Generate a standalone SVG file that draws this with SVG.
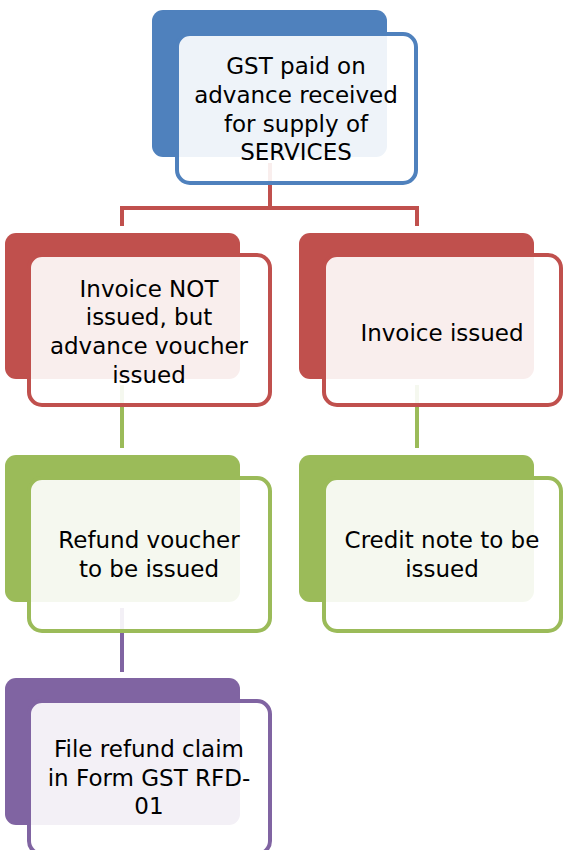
<svg xmlns="http://www.w3.org/2000/svg" width="563" height="850" viewBox="0 0 563 850">
  <style>
    .back { stroke: none; }
    .front { fill: #ffffff; fill-opacity: 0.9; stroke-width: 4; }
    .lbl { font-family: "DejaVu Sans", "Liberation Sans", sans-serif; font-size: 23px; fill: #000000; text-anchor: middle; }
    .conn { fill: none; stroke-width: 4; stroke-linejoin: miter; }
    .blue .back { fill: #4f81bd; } .blue .front { stroke: #4f81bd; }
    .red .back { fill: #c0504d; } .red .front { stroke: #c0504d; }
    .green .back { fill: #9bbb59; } .green .front { stroke: #9bbb59; }
    .purple .back { fill: #8064a2; } .purple .front { stroke: #8064a2; }
  </style>

  <!-- connectors (drawn first so the translucent front cards cover them) -->
  <g id="connectors">
    <path class="conn" stroke="#c0504d" d="M270 163 V208 H122 V226 M270 208 H417 V226"/>
    <path class="conn" stroke="#9bbb59" d="M122 385 V448"/>
    <path class="conn" stroke="#9bbb59" d="M417 385 V448"/>
    <path class="conn" stroke="#8064a2" d="M122 608 V672"/>
  </g>

  <g id="node-gst" class="blue">
    <rect class="back" x="152" y="10" width="235" height="147" rx="11"/>
    <rect class="front" x="177" y="34" width="239" height="149" rx="13"/>
    <text class="lbl" x="296" y="74">GST paid on</text>
    <text class="lbl" x="296" y="103">advance received</text>
    <text class="lbl" x="296" y="132">for supply of</text>
    <text class="lbl" x="296" y="160">SERVICES</text>
  </g>

  <g id="node-invoice-not-issued" class="red">
    <rect class="back" x="5" y="233" width="235" height="146" rx="11"/>
    <rect class="front" x="29" y="255" width="241" height="150" rx="13"/>
    <text class="lbl" x="149" y="297">Invoice NOT</text>
    <text class="lbl" x="149" y="325">issued, but</text>
    <text class="lbl" x="149" y="354">advance voucher</text>
    <text class="lbl" x="149" y="383">issued</text>
  </g>

  <g id="node-invoice-issued" class="red">
    <rect class="back" x="299" y="233" width="235" height="146" rx="11"/>
    <rect class="front" x="324" y="255" width="237" height="150" rx="13"/>
    <text class="lbl" x="442" y="341">Invoice issued</text>
  </g>

  <g id="node-refund-voucher" class="green">
    <rect class="back" x="5" y="455" width="235" height="147" rx="11"/>
    <rect class="front" x="29" y="478" width="241" height="153" rx="13"/>
    <text class="lbl" x="149" y="548">Refund voucher</text>
    <text class="lbl" x="149" y="577">to be issued</text>
  </g>

  <g id="node-credit-note" class="green">
    <rect class="back" x="299" y="455" width="235" height="147" rx="11"/>
    <rect class="front" x="324" y="478" width="237" height="153" rx="13"/>
    <text class="lbl" x="442" y="548">Credit note to be</text>
    <text class="lbl" x="442" y="577">issued</text>
  </g>

  <g id="node-refund-claim" class="purple">
    <rect class="back" x="5" y="678" width="235" height="147" rx="11"/>
    <rect class="front" x="29" y="701" width="241" height="153" rx="13"/>
    <text class="lbl" x="149" y="757">File refund claim</text>
    <text class="lbl" x="149" y="786">in Form GST RFD-</text>
    <text class="lbl" x="149" y="814">01</text>
  </g>
</svg>
